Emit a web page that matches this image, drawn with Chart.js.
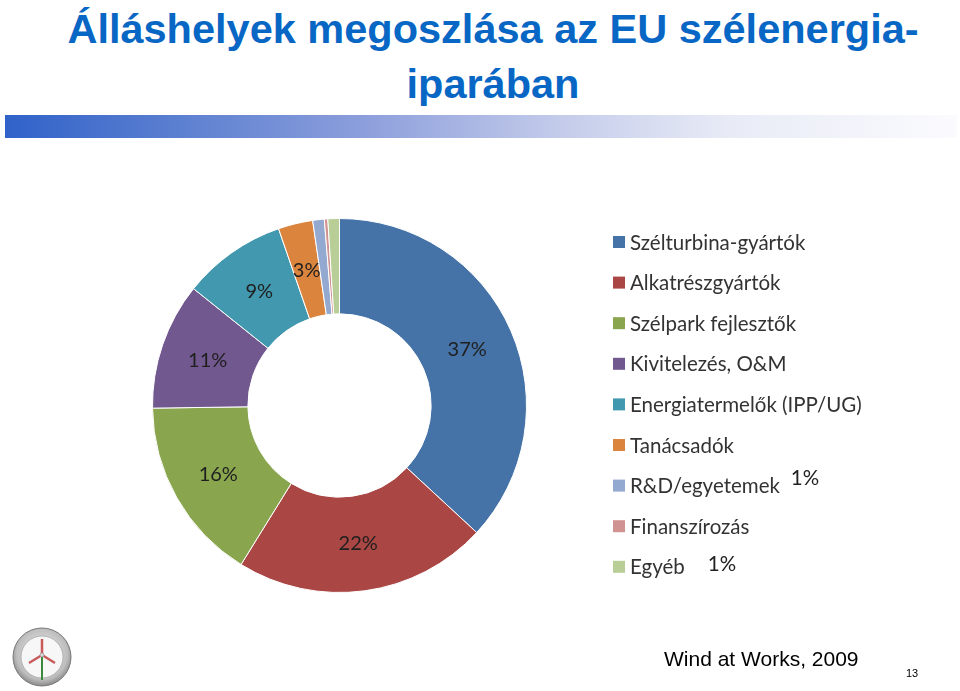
<!DOCTYPE html>
<html lang="hu">
<head>
<meta charset="utf-8">
<title>Álláshelyek megoszlása az EU szélenergia-iparában</title>
<script src="https://cdn.jsdelivr.net/npm/chart.js@4.4.1/dist/chart.umd.min.js"></script>
<style>
  html, body { margin: 0; padding: 0; background: #fff; }
  #slide { position: relative; width: 960px; height: 691px; overflow: hidden; background: #fff; }
  #title {
    position: absolute; left: 0; top: 1px; width: 986px; text-align: center;
    font-family: "Liberation Sans", Arial, sans-serif; font-weight: bold;
    font-size: 41.5px; line-height: 55px; color: #0867c4;
  }
  #bar {
    position: absolute; left: 5px; top: 115px; width: 952px; height: 23px;
    background: linear-gradient(to right, #3062c9 0%, #5b7fd0 18%, #8d9fdc 38%, #c3cbea 58%, #e8ebf6 76%, #fbfbfe 100%);
  }
  #chartBox { position: absolute; left: 0; top: 0; width: 960px; height: 691px; }
  #source {
    position: absolute; left: 664px; top: 647px;
    font-family: "Liberation Sans", Arial, sans-serif; font-size: 21px; color: #000;
  }
  #page {
    position: absolute; left: 906px; top: 667px;
    font-family: "Liberation Sans", Arial, sans-serif; font-size: 11px; color: #000;
  }
  #logo { position: absolute; left: 12px; top: 627px; }
</style>
</head>
<body>
<div id="slide">
  <div id="title">Álláshelyek megoszlása az EU szélenergia-<br>iparában</div>
  <div id="bar"></div>
  <div id="chartBox"><canvas id="chart" width="960" height="691"></canvas></div>
  <svg id="logo" width="60" height="60" viewBox="0 0 60 60">
    <defs>
      <radialGradient id="rim" cx="50%" cy="45%" r="55%">
        <stop offset="0%" stop-color="#f4f4f4"/>
        <stop offset="80%" stop-color="#bdbdbd"/>
        <stop offset="100%" stop-color="#8a8a8a"/>
      </radialGradient>
    </defs>
    <circle cx="30" cy="30" r="29" fill="url(#rim)" stroke="#777" stroke-width="1"/>
    <circle cx="30" cy="30" r="21" fill="#f7f7f7" stroke="#aaa" stroke-width="0.8"/>
    <line x1="30" y1="28" x2="30" y2="53" stroke="#3b8a3b" stroke-width="2"/>
    <line x1="30" y1="28" x2="30" y2="12" stroke="#c85a5a" stroke-width="2.5"/>
    <line x1="30" y1="28" x2="17" y2="36" stroke="#c85a5a" stroke-width="2.5"/>
    <line x1="30" y1="28" x2="43" y2="36" stroke="#c85a5a" stroke-width="2.5"/>
    <circle cx="30" cy="28" r="2" fill="#ddd" stroke="#888" stroke-width="0.6"/>
  </svg>
  <div id="source">Wind at Works, 2009</div>
  <div id="page">13</div>
</div>
<script>
// Share of wind-energy jobs by field (%)
const categories = [
  "Szélturbina-gyártók",
  "Alkatrészgyártók",
  "Szélpark fejlesztők",
  "Kivitelezés, O&M",
  "Energiatermelők (IPP/UG)",
  "Tanácsadók",
  "R&D/egyetemek",
  "Finanszírozás",
  "Egyéb"
];
const shares = [37, 22, 16, 11, 9, 3, 1, 0.3, 1];
// Printed percentage labels (null = no label on the ring)
const ringLabels = ["37%", "22%", "16%", "11%", "9%", "3%", null, null, null];
// Labels printed beside the legend instead of on the ring
const sideLabels = ["", "", "", "", "", "", "1%", "", "1%"];

const colors = ["#4572a7", "#aa4643", "#89a54e", "#71588f", "#4198af", "#db843d", "#93a9cf", "#d19392", "#b9cd96"];

// Layout of the hand-drawn legend
const LEGEND = { x: 613, top: 242, step: 40.6, box: 12, gap: 5, font: "20.5px Lato", color: "#333" };
const SIDE_LABEL_POS = { 6: [805, 478], 8: [722, 564] };

const labelPlugin = {
  id: "ringLabels",
  afterDatasetsDraw(chart) {
    const ctx = chart.ctx;
    const meta = chart.getDatasetMeta(0);
    ctx.save();
    ctx.font = "20px Lato";
    ctx.fillStyle = "#1f1f1f";
    ctx.textAlign = "center";
    ctx.textBaseline = "middle";
    meta.data.forEach((arc, i) => {
      if (!ringLabels[i]) return;
      const p = arc.tooltipPosition();
      ctx.fillText(ringLabels[i], p.x, p.y);
    });
    ctx.restore();
  },
  afterDraw(chart) {
    const ctx = chart.ctx;
    const ds = chart.data.datasets[0];
    ctx.save();
    ctx.font = LEGEND.font;
    ctx.textBaseline = "middle";
    ctx.textAlign = "left";
    chart.data.labels.forEach((lab, i) => {
      const y = LEGEND.top + i * LEGEND.step;
      ctx.fillStyle = ds.backgroundColor[i];
      ctx.fillRect(LEGEND.x, y - LEGEND.box / 2, LEGEND.box, LEGEND.box);
      ctx.fillStyle = LEGEND.color;
      ctx.fillText(lab, LEGEND.x + LEGEND.box + LEGEND.gap, y + 1);
    });
    ctx.textAlign = "center";
    ctx.fillStyle = "#222";
    sideLabels.forEach((t, i) => {
      if (!t || !SIDE_LABEL_POS[i]) return;
      const [x, y] = SIDE_LABEL_POS[i];
      ctx.fillText(t, x, y);
    });
    ctx.restore();
  }
};

new Chart(document.getElementById("chart"), {
  type: "doughnut",
  data: {
    labels: categories,
    datasets: [{
      data: shares,
      backgroundColor: colors,
      borderColor: "#ffffff",
      borderWidth: 1
    }]
  },
  options: {
    responsive: false,
    animation: false,
    devicePixelRatio: 1,
    cutout: "49%",
    layout: { padding: { left: 152, right: 433, top: 218, bottom: 98 } },
    plugins: {
      legend: { display: false },
      tooltip: { enabled: false }
    }
  },
  plugins: [labelPlugin]
});
</script>
</body>
</html>
